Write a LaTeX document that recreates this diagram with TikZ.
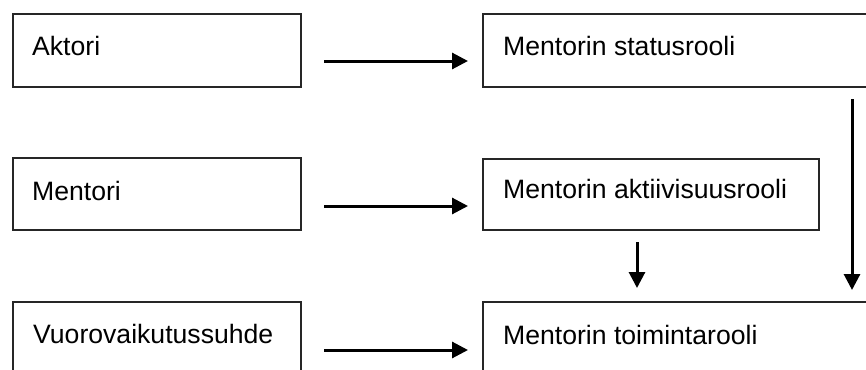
\documentclass[tikz,border=0pt]{standalone}
\usepackage{fontspec}
\setmainfont{Liberation Sans}
\usetikzlibrary{arrows.meta}
\begin{document}
\begin{tikzpicture}[x=1pt,y=-1pt,
  box/.style={draw=black!85, line width=1.6pt, rectangle, inner sep=0pt, anchor=north west},
  lbl/.style={anchor=base west, inner sep=0pt, font=\fontsize{26.6}{32}\selectfont},
  arr/.style={line width=3pt, -{Triangle[length=16pt,width=16pt]}}]
\useasboundingbox (0,0) rectangle (866,369);
\clip (0,0) rectangle (866,369);
% left column
\node[box, minimum width=288pt, minimum height=73pt] (aktori) at (12,13) {};
\node[box, minimum width=288pt, minimum height=72pt] (mentori) at (12,157) {};
\node[box, minimum width=288pt, minimum height=80pt] (vuoro) at (12,301) {};
% right column
\node[box, minimum width=420pt, minimum height=73pt] (status) at (482,13) {};
\node[box, minimum width=336pt, minimum height=71pt] (aktiiv) at (482,158) {};
\node[box, minimum width=420pt, minimum height=80pt] (toiminta) at (482,301) {};
% labels
\node[lbl] (t1) at (32,56) {Aktori};
\node[lbl] (t2) at (32,200) {Mentori};
\node[lbl] (t3) at (33,343) {Vuorovaikutussuhde};
\node[lbl] (t4) at (503,56) {Mentorin statusrooli};
\node[lbl] (t5) at (503,198) {Mentorin aktiivisuusrooli};
\node[lbl] (t6) at (503,344) {Mentorin toimintarooli};
% arrow end points
\coordinate (a1s) at (324,61);  \coordinate (a1e) at (468,61);
\coordinate (a2s) at (324,206); \coordinate (a2e) at (468,206);
\coordinate (a3s) at (324,350); \coordinate (a3e) at (468,350);
\coordinate (v1s) at (852,99);  \coordinate (v1e) at (852,290);
\coordinate (v2s) at (637,242); \coordinate (v2e) at (637,288);
\draw[arr] (a1s) -- (a1e);
\draw[arr] (a2s) -- (a2e);
\draw[arr] (a3s) -- (a3e);
\draw[arr] (v1s) -- (v1e);
\draw[arr] (v2s) -- (v2e);
\end{tikzpicture}
\end{document}
